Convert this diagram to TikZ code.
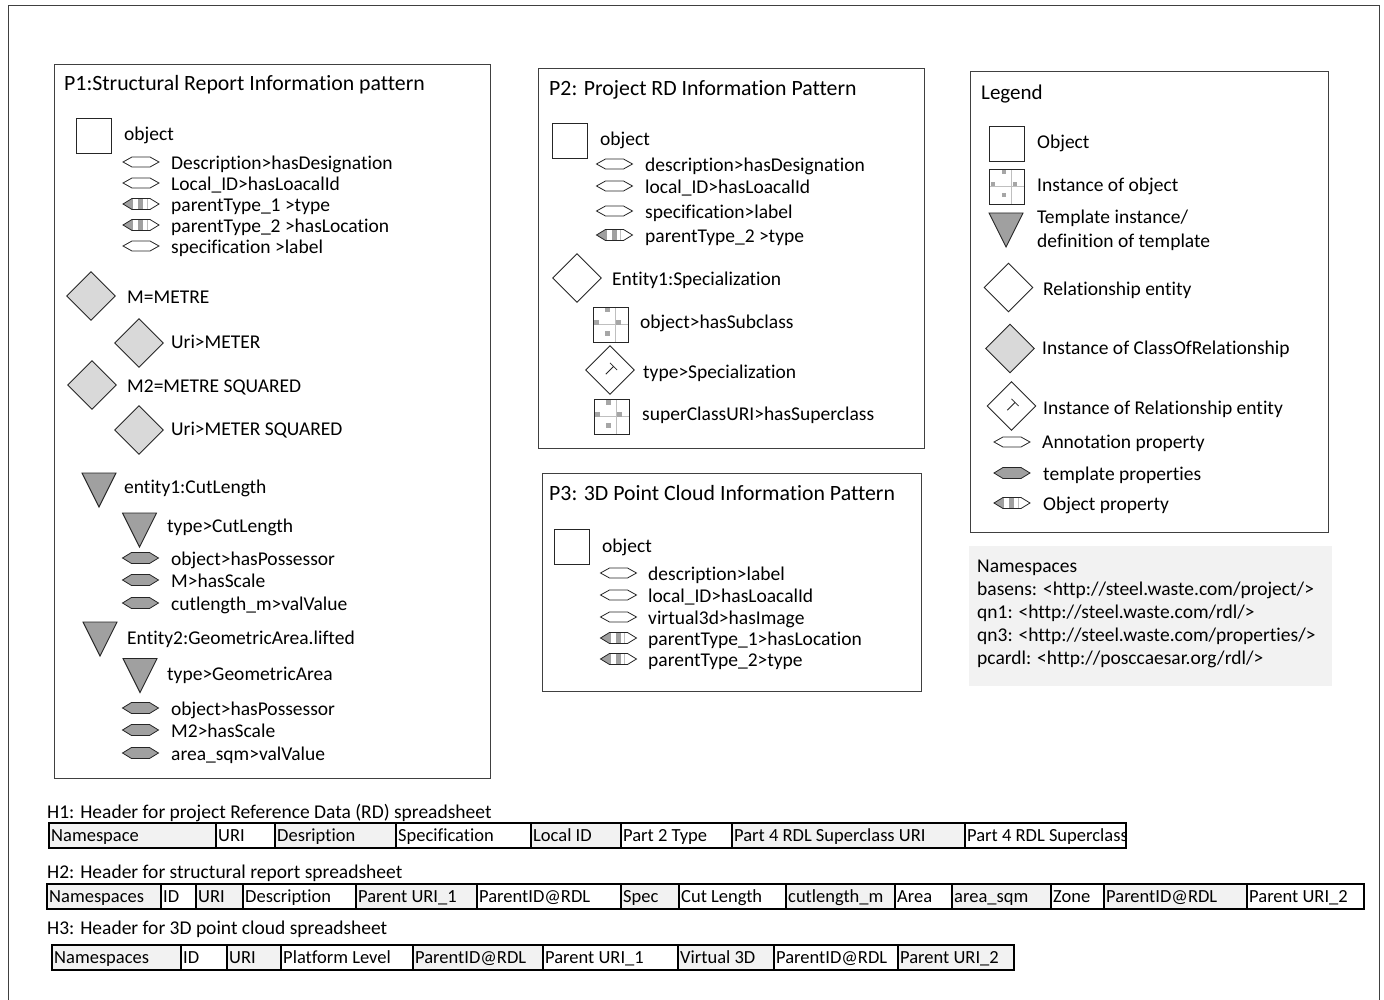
\documentclass[tikz,border=0pt]{standalone}
\usepackage{fontspec}
\setmainfont{Carlito}[Ligatures=NoCommon]
\usetikzlibrary{shapes.geometric}
\definecolor{edge}{HTML}{262626}
\definecolor{panelline}{HTML}{404040}
\definecolor{lightfill}{HTML}{D9D9D9}
\definecolor{midfill}{HTML}{A0A0A0}
\definecolor{cellgray}{HTML}{F2F2F2}
\definecolor{nsfill}{HTML}{F2F2F2}
\definecolor{dotgray}{HTML}{A6A6A6}
\definecolor{gridgray}{HTML}{BFBFBF}

\tikzset{
  txt/.style={anchor=west, inner sep=0pt, text height=16.5pt, text depth=2pt,
    font=\fontsize{19.5}{22}\selectfont, text=black},
  ttl/.style={txt, font=\fontsize{21.8}{24}\selectfont},
  panel/.style={draw=panelline, line width=1pt, anchor=north west, inner sep=0pt},
  objsq/.style={draw=edge, line width=0.9pt, fill=white, minimum size=35pt, inner sep=0pt},
  instsq/.style={objsq, path picture={
      \draw[gridgray, line width=0.6pt]
        ([xshift=22pt]path picture bounding box.north west) --
        ([xshift=22pt]path picture bounding box.south west)
        ([yshift=-17pt]path picture bounding box.north west) --
        ([yshift=-17pt]path picture bounding box.north east);
      \foreach \px/\py in {12/1, 1/13, 23/13, 12/24}
        \fill[dotgray] ([xshift=\px pt, yshift=-\py pt]path picture bounding box.north west)
          rectangle ++(4.5pt,-4.5pt);
    }},
  relbox/.style={draw=edge, line width=0.9pt, fill=white, shape=diamond,
    minimum size=49pt, inner sep=0pt},
  classrel/.style={relbox, fill=lightfill},
  tmplmark/.style={draw=edge, line width=0.9pt, fill=midfill},
  cell/.style={draw=black, line width=1.6pt, anchor=north west, inner sep=0pt,
    minimum height=25pt},
  celltxt/.style={anchor=west, inner sep=0pt, text height=14pt, text depth=2pt,
    font=\fontsize{18.5}{21}\selectfont},
  % property glyphs
  pics/annhex/.style={code={
      \draw[edge, line width=0.8pt, fill=white]
        (-18,0) -- (-9,-5) -- (9,-5) -- (18,0) -- (9,5) -- (-9,5) -- cycle;}},
  pics/tmplhex/.style={code={
      \draw[edge, line width=0.8pt, fill=midfill]
        (-18,0) -- (-9,-5.5) -- (9,-5.5) -- (18,0) -- (9,5.5) -- (-9,5.5) -- cycle;}},
  pics/objhex/.style={code={
      \begin{scope}
        \clip (-18,0) -- (-9,-5.5) -- (9,-5.5) -- (18,0) -- (9,5.5) -- (-9,5.5) -- cycle;
        \fill[white] (-19,-6) rectangle (19,6);
        \fill[midfill] (-19,-6) rectangle (-8,6);
        \fill[midfill] (-3,-6) rectangle (2,6);
        \draw[gridgray, line width=0.5pt] (6,-6) -- (6,6);
      \end{scope}
      \draw[edge, line width=0.8pt]
        (-18,0) -- (-9,-5.5) -- (9,-5.5) -- (18,0) -- (9,5.5) -- (-9,5.5) -- cycle;}},
  pics/tmpltri/.style={code={
      \draw[tmplmark] (-17,-17) -- (17,-17) -- (0,17) -- cycle;}},
  pics/tsign/.style={code={
      \draw[edge, line width=0.8pt, rotate=-45]
        (-5,-5) -- (5,-5) (0,-5) -- (0,6);}}
}

\begin{document}
\begin{tikzpicture}[x=1pt, y=-1pt]
\useasboundingbox (0,0) rectangle (1384,1000);

% outer frame
\draw[panelline, line width=1pt] (8,6) -- (1379,6) -- (1379,1010) (8,6) -- (8,1010);

% ---------------- P1 ----------------
\node[panel, minimum width=436pt, minimum height=714pt] (p1) at (54,64) {};
\node[ttl] (p1title) at (64,83) {P1:Structural Report Information pattern};
\node[objsq] (p1obj) at (93.5,135.5) {};
\node[txt] (p1objt) at (124,133) {object};
\pic at (141,162) {annhex};
\node[txt] (p1a) at (171,162) {Description>hasDesignation};
\pic at (141,183) {annhex};
\node[txt] (p1b) at (171,183) {Local\_ID>hasLoacalId};
\pic at (141,204) {objhex};
\node[txt] (p1c) at (171,204) {parentType\_1 >type};
\pic at (141,225) {objhex};
\node[txt] (p1d) at (171,225) {parentType\_2 >hasLocation};
\pic at (141,246) {annhex};
\node[txt] (p1e) at (171,246) {specification >label};

\node[classrel] (p1m) at (91,296) {};
\node[txt] (p1mt) at (127,296) {M=METRE};
\node[classrel] (p1u) at (139,343) {};
\node[txt] (p1ut) at (171,341) {Uri>METER};
\node[classrel] (p1m2) at (92,385) {};
\node[txt] (p1m2t) at (127,385) {M2=METRE SQUARED};
\node[classrel] (p1u2) at (139,430) {};
\node[txt] (p1u2t) at (171,428) {Uri>METER SQUARED};

\pic at (99,490) {tmpltri};
\node[txt] (p1e1) at (124,486) {entity1:CutLength};
\pic at (139.5,530) {tmpltri};
\node[txt] (p1e1t) at (167,525) {type>CutLength};
\pic at (140.5,558) {tmplhex};
\node[txt] (p1e1a) at (171,558) {object>hasPossessor};
\pic at (140.5,580) {tmplhex};
\node[txt] (p1e1b) at (171,580) {M>hasScale};
\pic at (140.5,603) {tmplhex};
\node[txt] (p1e1c) at (171,603) {cutlength\_m>valValue};

\pic at (100,639) {tmpltri};
\node[txt] (p1e2) at (127,637) {Entity2:GeometricArea.lifted};
\pic at (140,675.5) {tmpltri};
\node[txt] (p1e2t) at (167,673) {type>GeometricArea};
\pic at (140.5,708) {tmplhex};
\node[txt] (p1e2a) at (171,708) {object>hasPossessor};
\pic at (140.5,730) {tmplhex};
\node[txt] (p1e2b) at (171,730) {M2>hasScale};
\pic at (140.5,753) {tmplhex};
\node[txt] (p1e2c) at (171,753) {area\_sqm>valValue};

% ---------------- P2 ----------------
\node[panel, minimum width=386pt, minimum height=380pt] (p2) at (538,68) {};
\node[ttl] (p2title) at (549,88) {P2: Project RD Information Pattern};
\node[objsq] (p2obj) at (570,140.5) {};
\node[txt] (p2objt) at (600,138) {object};
\pic at (614.5,164) {annhex};
\node[txt] (p2a) at (645,164) {description>hasDesignation};
\pic at (614.5,186) {annhex};
\node[txt] (p2b) at (645,186) {local\_ID>hasLoacalId};
\pic at (614.5,211) {annhex};
\node[txt] (p2c) at (645,211) {specification>label};
\pic at (614.5,235) {objhex};
\node[txt] (p2d) at (645,235) {parentType\_2 >type};
\node[relbox] (p2rel) at (577,278) {};
\node[txt] (p2relt) at (612,278) {Entity1:Specialization};
\node[instsq] (p2sub) at (610.5,324.5) {};
\node[txt] (p2subt) at (640,321) {object>hasSubclass};
\node[relbox] (p2typ) at (610,370) {};
\pic at (610,370) {tsign};
\node[txt] (p2typt) at (643,371) {type>Specialization};
\node[instsq] (p2sup) at (611.5,416.5) {};
\node[txt] (p2supt) at (642,413) {superClassURI>hasSuperclass};

% ---------------- P3 ----------------
\node[panel, minimum width=379pt, minimum height=218pt] (p3) at (542,473) {};
\node[ttl] (p3title) at (549,493) {P3: 3D Point Cloud Information Pattern};
\node[objsq] (p3obj) at (572,547) {};
\node[txt] (p3objt) at (602,545) {object};
\pic at (618.5,573) {annhex};
\node[txt] (p3a) at (648,573) {description>label};
\pic at (618.5,595) {annhex};
\node[txt] (p3b) at (648,595) {local\_ID>hasLoacalId};
\pic at (618.5,617) {annhex};
\node[txt] (p3c) at (648,617) {virtual3d>hasImage};
\pic at (618.5,638) {objhex};
\node[txt] (p3d) at (648,638) {parentType\_1>hasLocation};
\pic at (618.5,659) {objhex};
\node[txt] (p3e) at (648,659) {parentType\_2>type};

% ---------------- Legend ----------------
\node[panel, minimum width=358pt, minimum height=461pt] (leg) at (970,71) {};
\node[txt, font=\fontsize{21}{24}\selectfont] (legtitle) at (981,92) {Legend};
\node[objsq] (legobj) at (1007,143.5) {};
\node[txt] (legobjt) at (1037,141) {Object};
\node[instsq] (leginst) at (1007,186.5) {};
\node[txt] (leginstt) at (1037,184) {Instance of object};
\pic at (1006,230) {tmpltri};
\node[txt] (legtri1) at (1037,216) {Template instance/};
\node[txt] (legtri2) at (1037,240) {definition of template};
\node[relbox] (legrel) at (1008.5,287.5) {};
\node[txt] (legrelt) at (1043,288) {Relationship entity};
\node[classrel] (legcls) at (1010,348.5) {};
\node[txt] (legclst) at (1042,347) {Instance of ClassOfRelationship};
\node[relbox] (legtyp) at (1011.5,406) {};
\pic at (1011.5,406) {tsign};
\node[txt] (legtypt) at (1043,407) {Instance of Relationship entity};
\pic at (1012,442) {annhex};
\node[txt] (legann) at (1042,441) {Annotation property};
\pic at (1012,473) {tmplhex};
\node[txt] (legtpl) at (1043,473) {template properties};
\pic at (1012,503) {objhex};
\node[txt] (legobp) at (1043,503) {Object property};

% ---------------- Namespaces ----------------
\node[anchor=north west, fill=nsfill, minimum width=363pt, minimum height=140pt, inner sep=0pt] (ns) at (969,546) {};
\node[txt] (ns0) at (977,565) {Namespaces};
\node[txt] (ns1) at (977,588) {basens: <http://steel.waste.com/project/>};
\node[txt] (ns2) at (977,611) {qn1: <http://steel.waste.com/rdl/>};
\node[txt] (ns3) at (977,634) {qn3: <http://steel.waste.com/properties/>};
\node[txt] (ns4) at (977,657) {pcardl: <http://posccaesar.org/rdl/>};

% ---------------- Spreadsheet headers ----------------
\node[txt] (h1) at (47,811) {H1: Header for project Reference Data (RD) spreadsheet};
\foreach \a/\b/\f/\t [count=\i] in {
    48/215/cellgray/Namespace, 215/274/white/URI, 274/395/cellgray/Desription,
    395/530/white/Specification, 530/620/cellgray/Local ID, 620/731/white/Part 2 Type,
    731/964/cellgray/Part 4 RDL Superclass URI, 964/1125/white/Part 4 RDL Superclass}{
  \node[cell, fill=\f, minimum width={(\b-\a)*1pt}] (h1c\i) at (\a,822) {};
  \node[celltxt] (h1t\i) at ([xshift=3pt]h1c\i.west) {\t};
}

\node[txt] (h2) at (47,871) {H2: Header for structural report spreadsheet};
\foreach \a/\b/\f/\t [count=\i] in {
    46/160/cellgray/Namespaces, 160/195/white/ID, 195/242/cellgray/URI,
    242/355/white/Description, 355/476/cellgray/Parent URI\_1, 476/620/white/ParentID@RDL,
    620/678/cellgray/Spec, 678/785/white/Cut Length, 785/894/cellgray/cutlength\_m,
    894/951/white/Area, 951/1050/cellgray/area\_sqm, 1050/1103/white/Zone,
    1103/1246/cellgray/ParentID@RDL, 1246/1363/white/Parent URI\_2}{
  \node[cell, fill=\f, minimum width={(\b-\a)*1pt}] (h2c\i) at (\a,883) {};
  \node[celltxt] (h2t\i) at ([xshift=3pt]h2c\i.west) {\t};
}

\node[txt] (h3) at (47,927) {H3: Header for 3D point cloud spreadsheet};
\foreach \a/\b/\f/\t [count=\i] in {
    51/180/cellgray/Namespaces, 180/226/white/ID, 226/280/cellgray/URI,
    280/412/white/Platform Level, 412/542/cellgray/ParentID@RDL, 542/677/white/Parent URI\_1,
    677/773/cellgray/Virtual 3D, 773/897/white/ParentID@RDL, 897/1013/cellgray/Parent URI\_2}{
  \node[cell, fill=\f, minimum width={(\b-\a)*1pt}] (h3c\i) at (\a,944) {};
  \node[celltxt] (h3t\i) at ([xshift=3pt]h3c\i.west) {\t};
}
\end{tikzpicture}
\end{document}
